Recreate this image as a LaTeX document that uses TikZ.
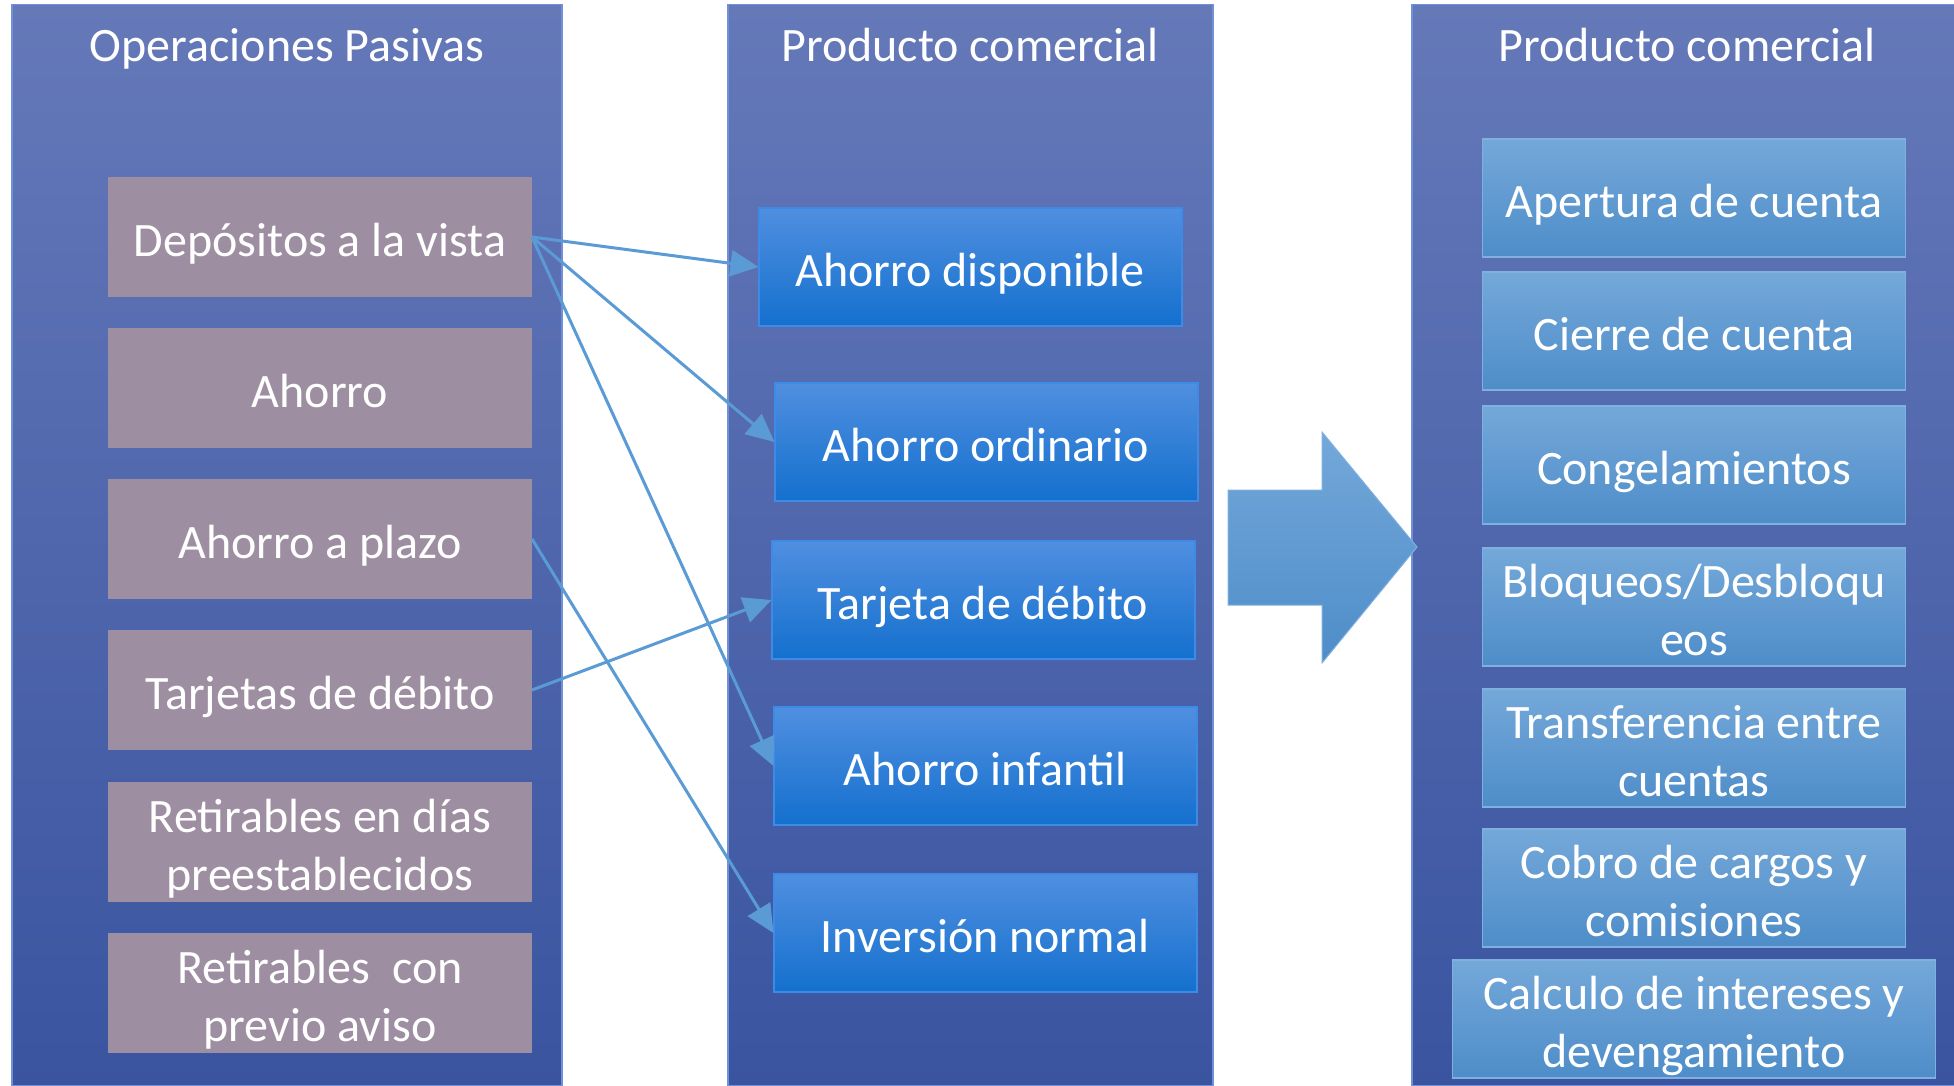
\documentclass[tikz,border=0pt]{standalone}
\usepackage{fontspec}
\setmainfont{Carlito}
\usetikzlibrary{arrows.meta}
\definecolor{panTop}{RGB}{101,121,185}
\definecolor{panBot}{RGB}{58,84,160}
\definecolor{panEdge}{RGB}{112,144,216}
\definecolor{mauve}{RGB}{157,143,161}
\definecolor{bTop}{RGB}{80,143,224}
\definecolor{bBot}{RGB}{20,112,206}
\definecolor{bEdge}{RGB}{61,139,230}
\definecolor{lTop}{RGB}{116,168,217}
\definecolor{lBot}{RGB}{78,141,201}
\definecolor{lEdge}{RGB}{127,176,224}
\definecolor{conn}{RGB}{91,155,213}
\newcommand{\hiS}{\rule{0pt}{48pt}}
\newcommand{\loS}{\rule[-10pt]{0pt}{0pt}}
\tikzset{
  txt/.style={text=white, align=center, font=\fontsize{48}{58}\selectfont},
  panel/.style={minimum width=#1, minimum height=1081pt, inner sep=0pt, outer sep=0pt,
    top color=panTop, bottom color=panBot, draw=panEdge, line width=1.5pt},
  ttl/.style={txt},
  lbox/.style={txt, minimum width=424pt, minimum height=120pt, inner sep=0pt, outer sep=0pt,
    fill=mauve},
  mbox/.style={txt, minimum width=423pt, minimum height=118pt, inner sep=0pt, outer sep=0pt,
    top color=bTop, bottom color=bBot, draw=bEdge, line width=2pt},
  rbox/.style={txt, minimum width=#1, minimum height=118pt, inner sep=0pt, outer sep=0pt,
    top color=lTop, bottom color=lBot, draw=lEdge, line width=1.5pt},
  rbox/.default=423pt,
  link/.style={draw=conn, line width=3pt, -{Triangle[length=28pt,width=26pt]}},
}
\begin{document}
\begin{tikzpicture}[x=1pt,y=-1pt]
\useasboundingbox (0,0) rectangle (1954,1085);
\fill[white] (0,0) rectangle (1954,1085);
% panels
\node[panel=550pt] (p1) at (287,545) {};
\node[panel=485pt] (p2) at (970.5,545) {};
\node[panel=545pt] (p3) at (1684.5,545) {};
\node[ttl] (t1) at (287,42) {\hiS Operaciones Pasivas\loS};
\node[ttl] (t2) at (970,42) {\hiS Producto comercial\loS};
\node[ttl] (t3) at (1687,42) {\hiS Producto comercial\loS};
% left boxes
\node[lbox] (l1) at (320,237) {\hiS Depósitos a la vista\loS};
\node[lbox] (l2) at (320,388) {\hiS Ahorro\loS};
\node[lbox] (l3) at (320,539) {\hiS Ahorro a plazo\loS};
\node[lbox] (l4) at (320,690) {\hiS Tarjetas de débito\loS};
\node[lbox] (l5) at (320,842) {\hiS Retirables en días\\preestablecidos\loS};
\node[lbox] (l6) at (320,993) {\hiS Retirables\ \ con\\previo aviso\loS};
% middle boxes
\node[mbox] (m1) at (970,267) {\hiS Ahorro disponible\loS};
\node[mbox] (m2) at (986,442) {\hiS Ahorro ordinario\loS};
\node[mbox] (m3) at (983,600) {\hiS Tarjeta de débito\loS};
\node[mbox] (m4) at (985,766) {\hiS Ahorro infantil\loS};
\node[mbox] (m5) at (985,933) {\hiS Inversión normal\loS};
% right boxes
\node[rbox] (r1) at (1694,198) {\hiS Apertura de cuenta\loS};
\node[rbox] (r2) at (1694,331) {\hiS Cierre de cuenta\loS};
\node[rbox] (r3) at (1694,465) {\hiS Congelamientos\loS};
\node[rbox] (r4) at (1694,607) {\hiS Bloqueos/Desbloqu\\eos\loS};
\node[rbox] (r5) at (1694,748) {\hiS Transferencia entre\\cuentas\loS};
\node[rbox] (r6) at (1694,888) {\hiS Cobro de cargos y\\comisiones\loS};
\node[rbox=483pt] (r7) at (1694,1019) {\hiS Calculo de intereses y\\devengamiento\loS};
% connectors
\draw[link] (l1.east) -- (m1.west);
\draw[link] (l1.east) -- (m2.west);
\draw[link] (l1.east) -- (m4.west);
\draw[link] (l3.east) -- (m5.west);
\draw[link] (l4.east) -- (m3.west);
% big arrow
\shade[top color=lTop, bottom color=lBot, draw=lEdge, line width=1pt]
  (1228,490) -- (1322,490) -- (1322,432) -- (1417,547) -- (1322,663) -- (1322,605) -- (1228,605) -- cycle;
\end{tikzpicture}
\end{document}
